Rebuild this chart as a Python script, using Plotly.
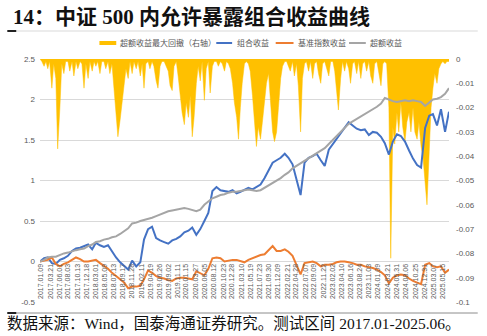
import pandas as pd
import plotly.graph_objects as go

# ---------------- data ----------------
month_dates = pd.date_range("2017-01-01", periods=103, freq="MS")
half_month_dates = pd.date_range("2017-01-01", periods=205, freq="SMS")

portfolio = [0.00, 0.04, 0.05, -0.02, -0.03, 0.02, 0.04, 0.07, 0.13, 0.16,
             0.17, 0.19, 0.21, 0.15, 0.23, 0.20, 0.18, 0.20, 0.12, 0.05,
             -0.01, -0.06, -0.10, 0.01, -0.06, -0.01, 0.27, 0.40, 0.43, 0.29,
             0.26, 0.24, 0.22, 0.26, 0.28, 0.31, 0.36, 0.38, 0.42, 0.33,
             0.40, 0.50, 0.60, 0.87, 0.92, 0.88, 0.87, 0.86, 0.88, 0.84,
             0.86, 0.89, 0.91, 0.89, 0.92, 0.95, 1.03, 1.12, 1.22, 1.25,
             1.28, 1.33, 1.28, 1.20, 1.02, 0.82, 1.22, 1.28, 1.30, 1.33,
             1.25, 1.18, 1.38, 1.45, 1.52, 1.58, 1.66, 1.72, 1.68, 1.64,
             1.62, 1.63, 1.56, 1.60, 1.59, 1.54, 1.46, 1.32, 1.48, 1.57,
             1.55, 1.48, 1.37, 1.27, 1.19, 1.16, 1.65, 1.80, 1.82, 1.68,
             1.88, 1.60, 1.85]

benchmark = [0.00, 0.01, 0.02, 0.05, -0.03, -0.06, -0.03, -0.01, 0.02, 0.05,
             0.03, 0.00, 0.00, 0.01, 0.02, -0.02, -0.05, -0.09, -0.14, -0.18,
             -0.22, -0.26, -0.33, -0.31, -0.31, -0.30, -0.22, -0.11, -0.14, -0.18,
             -0.20, -0.21, -0.23, -0.24, -0.21, -0.20, -0.20, -0.21, -0.22, -0.12,
             -0.14, -0.17, -0.09, 0.04, 0.05, 0.04, 0.00, 0.01, 0.02, 0.02,
             0.01, -0.01, 0.02, 0.04, 0.06, 0.08, 0.09, 0.14, 0.19, 0.13,
             0.13, 0.15, 0.12, 0.07, -0.04, -0.16, -0.02, -0.01, 0.00, -0.02,
             -0.06, -0.04, -0.04, -0.03, -0.01, 0.00, 0.00, -0.01, -0.02, -0.04,
             -0.04, -0.06, -0.07, -0.08, -0.10, -0.13, -0.17, -0.27, -0.20, -0.17,
             -0.16, -0.17, -0.21, -0.24, -0.26, -0.28, -0.04, -0.02, -0.06, -0.07,
             -0.06, -0.14, -0.10]

excess = [0.00, 0.02, 0.05, 0.06, 0.06, 0.08, 0.10, 0.11, 0.13, 0.14,
          0.15, 0.16, 0.19, 0.21, 0.24, 0.25, 0.27, 0.28, 0.30, 0.31,
          0.34, 0.37, 0.41, 0.47, 0.48, 0.50, 0.51, 0.52, 0.54, 0.56,
          0.58, 0.60, 0.62, 0.63, 0.64, 0.65, 0.66, 0.65, 0.64, 0.62,
          0.64, 0.70, 0.74, 0.78, 0.80, 0.82, 0.83, 0.85, 0.86, 0.86,
          0.87, 0.88, 0.89, 0.88, 0.87, 0.88, 0.91, 0.94, 0.97, 1.00,
          1.03, 1.07, 1.10, 1.15, 1.18, 1.21, 1.24, 1.27, 1.30, 1.33,
          1.36, 1.40, 1.45, 1.50, 1.55, 1.60, 1.65, 1.70, 1.73, 1.76,
          1.79, 1.82, 1.85, 1.88, 1.91, 1.95, 2.02, 2.00, 1.98, 1.97,
          1.98, 1.99, 1.98, 1.99, 1.98, 1.97, 1.92, 1.96, 2.00, 2.01,
          2.03, 2.07, 2.14]

excess_drawdown = [
    0.000, -0.001, -0.003, -0.001, -0.004, -0.001, -0.012, -0.002, -0.008, -0.037,
    -0.020, -0.002, -0.006, -0.001, -0.001, -0.005, -0.001, -0.007, -0.001, -0.004,
    -0.001, -0.002, -0.012, -0.002, -0.008, -0.001, -0.005, -0.001, -0.003, -0.001,
    -0.006, -0.001, -0.001, -0.004, -0.001, -0.006, -0.002, -0.012, -0.026, -0.032,
    -0.025, -0.018, -0.012, -0.004, -0.008, -0.001, -0.006, -0.001, -0.004, -0.001,
    -0.007, -0.002, -0.012, -0.002, -0.001, -0.004, -0.001, -0.003, -0.009, -0.012,
    -0.003, -0.001, -0.001, -0.003, -0.005, -0.011, -0.013, -0.003, -0.001, -0.007,
    -0.016, -0.022, -0.027, -0.018, -0.024, -0.015, -0.032, -0.024, -0.010, -0.003,
    -0.009, -0.001, -0.017, -0.004, -0.001, -0.014, -0.003, -0.001, -0.001, -0.003,
    -0.001, -0.002, -0.005, -0.001, -0.002, -0.004, -0.010, -0.018, -0.024, -0.033,
    -0.020, -0.010, -0.002, -0.001, -0.002, -0.005, -0.015, -0.026, -0.036, -0.028,
    -0.033, -0.026, -0.016, -0.010, -0.006, -0.016, -0.030, -0.034, -0.030, -0.020,
    -0.008, -0.003, -0.001, -0.001, -0.003, -0.005, -0.001, -0.007, -0.002, -0.011,
    -0.030, -0.008, -0.002, -0.001, -0.005, -0.001, -0.008, -0.002, -0.001, -0.006,
    -0.010, -0.002, -0.001, -0.004, -0.007, -0.001, -0.001, -0.005, -0.015, -0.021,
    -0.008, -0.001, -0.005, -0.001, -0.004, -0.010, -0.002, -0.001, -0.006, -0.001,
    -0.008, -0.002, -0.001, -0.005, -0.001, -0.007, -0.010, -0.002, -0.001, -0.006,
    -0.011, -0.002, -0.001, -0.002, -0.020, -0.082, -0.028, -0.035, -0.022, -0.030,
    -0.018, -0.028, -0.034, -0.026, -0.022, -0.030, -0.020, -0.030, -0.033, -0.026,
    -0.036, -0.040, -0.050, -0.060, -0.038, -0.020, -0.012, -0.006, -0.010, -0.004,
    -0.002, -0.001, -0.002, -0.001, -0.001]

x_tick_labels = [
    "2017.01.09", "2017.03.21", "2017.06.01", "2017.08.03", "2017.10.13", "2017.12.18",
    "2018.03.01", "2018.05.09", "2018.07.13", "2018.09.17", "2018.11.28", "2019.02.11",
    "2019.04.19", "2019.06.26", "2019.09.02", "2019.11.11", "2020.01.15", "2020.03.27",
    "2020.06.05", "2020.08.12", "2020.10.23", "2020.12.28", "2021.03.10", "2021.05.19",
    "2021.07.23", "2021.09.30", "2021.12.09", "2022.02.21", "2022.04.28", "2022.07.07",
    "2022.09.09", "2022.11.22", "2023.02.02", "2023.04.10", "2023.06.16", "2023.08.24",
    "2023.11.03", "2024.01.09", "2024.03.21", "2024.05.31", "2024.08.06", "2024.10.25",
    "2024.12.31", "2025.03.07", "2025.05.15"]

left_ticks = [-0.5, 0, 0.5, 1, 1.5, 2, 2.5]
left_tick_text = ["-0.5", "0", "0.5", "1", "1.5", "2", "2.5"]
right_ticks = [0, -0.01, -0.02, -0.03, -0.04, -0.05, -0.06, -0.07, -0.08, -0.09, -0.1]
right_tick_text = ["0", "-0.01", "-0.02", "-0.03", "-0.04", "-0.05", "-0.06",
                   "-0.07", "-0.08", "-0.09", "-0.1"]

series_names = ["超额收益最大回撤（右轴）", "组合收益", "基准指数收益", "超额收益"]
colors = ["#FFC000", "#4472C4", "#ED7D31", "#A5A5A5"]

title_text = "14：中证 500 内允许暴露组合收益曲线"
source_text = "数据来源：Wind，国泰海通证券研究。测试区间 2017.01-2025.06。"

# ---------------- layout helpers ----------------
W, H = 487, 336
L, R, T, B = 40, 453, 59, 302


def px(x):
    return (x - L) / (R - L)


def py(y):
    return (B - y) / (B - T)


FONT = "Liberation Sans, Noto Sans CJK SC, sans-serif"
TXT = "#595959"

fig = go.Figure()

fig.add_trace(go.Scatter(
    x=half_month_dates, y=excess_drawdown, yaxis="y", mode="lines",
    line=dict(color=colors[0], width=0.5), fill="tozeroy",
    fillcolor=colors[0], name=series_names[0], showlegend=False))

for vals, col, nm in [(portfolio, colors[1], series_names[1]),
                      (benchmark, colors[2], series_names[2]),
                      (excess, colors[3], series_names[3])]:
    fig.add_trace(go.Scatter(
        x=month_dates, y=vals, yaxis="y2", mode="lines",
        line=dict(color=col, width=2), name=nm, showlegend=False))

tick_dates = [s.replace(".", "-") for s in x_tick_labels]

fig.update_layout(
    width=W, height=H,
    margin=dict(l=L, r=W - R, t=T, b=H - B),
    paper_bgcolor="white", plot_bgcolor="white",
    font=dict(family=FONT, color=TXT),
    xaxis=dict(type="date", range=["2017-01-01", "2025-07-01"],
               tickvals=tick_dates, ticktext=x_tick_labels, tickangle=-90,
               tickfont=dict(size=7, color=TXT), showgrid=False,
               showline=False, ticks="", zeroline=False,
               anchor="free", position=0.5 / 3),
    yaxis=dict(range=[-0.1, 0], side="right", tickvals=right_ticks,
               ticktext=right_tick_text, showgrid=False, zeroline=False,
               tickfont=dict(size=8, color=TXT), ticks="",
               ticklabelstandoff=6),
    yaxis2=dict(range=[-0.5, 2.5], side="left", overlaying="y",
                tickvals=left_ticks, ticktext=left_tick_text,
                showgrid=True, gridcolor="#D9D9D9", gridwidth=1,
                zeroline=False, tickfont=dict(size=8, color=TXT), ticks="",
                ticklabelstandoff=4),
)

shapes = []
annotations = []

# separators
shapes.append(dict(type="line", xref="paper", yref="paper",
                   x0=px(7), x1=px(482), y0=py(31), y1=py(31),
                   line=dict(color="#D9D9D9", width=1)))
shapes.append(dict(type="line", xref="paper", yref="paper",
                   x0=px(7), x1=px(16), y0=py(31), y1=py(31),
                   line=dict(color="#222222", width=2)))
shapes.append(dict(type="line", xref="paper", yref="paper",
                   x0=px(7), x1=px(482), y0=py(313), y1=py(313),
                   line=dict(color="#8C8C8C", width=1)))
shapes.append(dict(type="line", xref="paper", yref="paper",
                   x0=px(7), x1=px(16), y0=py(313), y1=py(313),
                   line=dict(color="#222222", width=2)))

# legend (manual)
legend_pos = [(100, 117, 119, 4), (218, 234, 237, 2), (278, 296, 298, 2), (352, 369, 371, 2)]
for (x0, x1, xt, lw), col, nm in zip(legend_pos, colors, series_names):
    shapes.append(dict(type="line", xref="paper", yref="paper",
                       x0=px(x0), x1=px(x1), y0=py(43), y1=py(43),
                       line=dict(color=col, width=lw)))
    annotations.append(dict(text=nm, xref="paper", yref="paper",
                            x=px(xt), y=py(43), xanchor="left", yanchor="middle",
                            showarrow=False, font=dict(size=8, color=TXT, family=FONT)))

annotations.append(dict(text="<b>" + title_text + "</b>", xref="paper", yref="paper",
                        x=px(11), y=py(17), xanchor="left", yanchor="middle",
                        showarrow=False,
                        font=dict(size=21, color="#111111",
                                  family="Liberation Serif, Noto Sans CJK SC, serif")))
annotations.append(dict(text=source_text, xref="paper", yref="paper",
                        x=px(5), y=py(323), xanchor="left", yanchor="middle",
                        showarrow=False,
                        font=dict(size=15.5, color="#111111",
                                  family="Liberation Serif, Noto Sans CJK SC, serif")))

fig.update_layout(shapes=shapes, annotations=annotations)

fig.write_html("out.html")
